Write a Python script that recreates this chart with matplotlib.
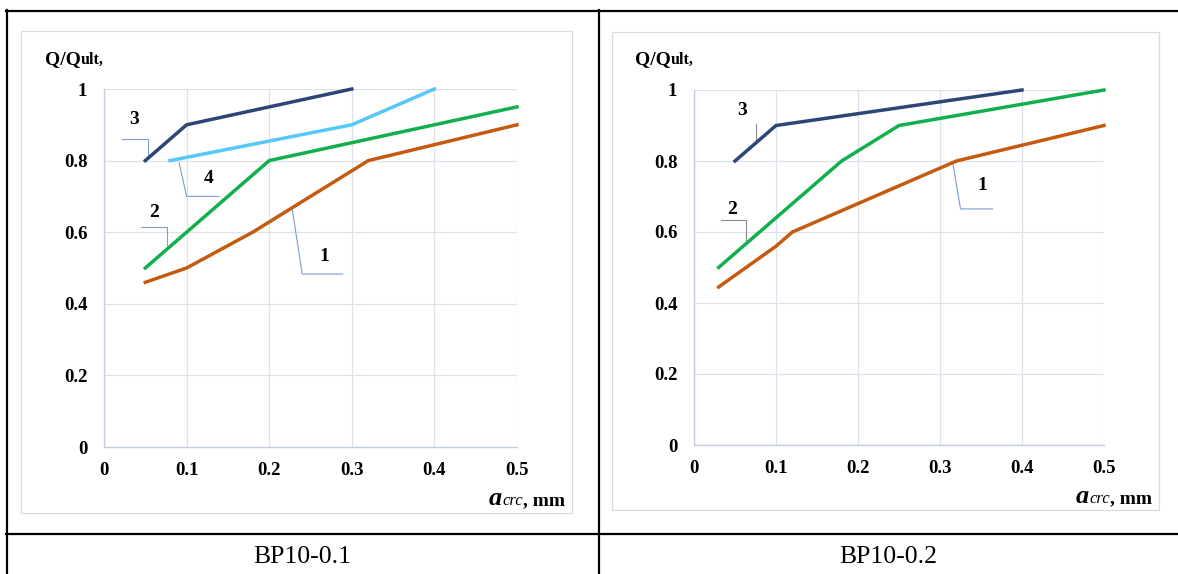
import matplotlib
matplotlib.use("Agg")
import matplotlib.pyplot as plt
from matplotlib.lines import Line2D
from matplotlib.patches import Rectangle

# ---------------- data ----------------
xticks = [0, 0.1, 0.2, 0.3, 0.4, 0.5]
yticks = [0, 0.2, 0.4, 0.6, 0.8, 1.0]
xtick_labels = ["0", "0.1", "0.2", "0.3", "0.4", "0.5"]
ytick_labels = ["0", "0.2", "0.4", "0.6", "0.8", "1"]

# BP10-0.1
a_c1_x = [0.05, 0.10, 0.18, 0.32, 0.50]
a_c1_y = [0.46, 0.50, 0.60, 0.80, 0.90]
a_c2_x = [0.05, 0.20, 0.50]
a_c2_y = [0.50, 0.80, 0.95]
a_c3_x = [0.05, 0.10, 0.30]
a_c3_y = [0.80, 0.90, 1.00]
a_c4_x = [0.08, 0.30, 0.40]
a_c4_y = [0.80, 0.90, 1.00]

# BP10-0.2
b_c1_x = [0.03, 0.10, 0.12, 0.32, 0.50]
b_c1_y = [0.445, 0.56, 0.60, 0.80, 0.90]
b_c2_x = [0.03, 0.18, 0.25, 0.50]
b_c2_y = [0.50, 0.80, 0.90, 1.00]
b_c3_x = [0.05, 0.10, 0.40]
b_c3_y = [0.80, 0.90, 1.00]

captions = ["BP10-0.1", "BP10-0.2"]

# ---------------- styles ----------------
C1 = "#C55A11"
C2 = "#12B04C"
C3 = "#2B4677"
C4 = "#55C8F6"
LEAD = "#7E9CD6"
LEAD_G = "#8A8A8A"
GRID = "#DCE1EA"
SPINE = "#C4CEE0"
SERIF = "Liberation Serif"
TICK_FS = 13.5

W, H = 1178, 574
fig = plt.figure(figsize=(W / 100, H / 100), dpi=100)
fig.patch.set_facecolor("white")


def fx(x):
    return x / W


def fy(y):
    return 1 - y / H


# table lines
tl = dict(color="black", lw=1.6, transform=fig.transFigure, zorder=5)
fig.add_artist(Line2D([fx(6), fx(1178)], [fy(11), fy(11)], **tl))
fig.add_artist(Line2D([fx(7), fx(7)], [fy(10), fy(574)], **tl))
fig.add_artist(Line2D([fx(598.5), fx(598.5)], [fy(10), fy(574)], **tl))
fig.add_artist(Line2D([fx(6), fx(1178)], [fy(534), fy(534)], **tl))

# chart boxes
for (x0, y0, x1, y1) in [(21, 31, 572, 513), (612, 32, 1159, 510)]:
    fig.add_artist(Rectangle((fx(x0), fy(y1)), fx(x1 - x0), (y1 - y0) / H,
                             transform=fig.transFigure, facecolor="white",
                             edgecolor="#D9DDE3", lw=0.9, zorder=0))


def make_axes(rect_px):
    x0, y0, x1, y1 = rect_px
    ax = fig.add_axes([fx(x0), fy(y1), (x1 - x0) / W, (y1 - y0) / H])
    ax.set_xlim(0, 0.5)
    ax.set_ylim(0, 1)
    ax.set_xticks(xticks)
    ax.set_yticks(yticks)
    ax.set_xticklabels(xtick_labels, fontfamily=SERIF, fontweight="bold", fontsize=TICK_FS)
    ax.set_yticklabels(ytick_labels, fontfamily=SERIF, fontweight="bold", fontsize=TICK_FS)
    ax.tick_params(length=0)
    ax.tick_params(axis="y", pad=12)
    ax.tick_params(axis="x", pad=11)
    ax.grid(True, color=GRID, lw=0.9)
    ax.set_axisbelow(True)
    for s in ["top", "right"]:
        ax.spines[s].set_visible(False)
    for s in ["left", "bottom"]:
        ax.spines[s].set_color(SPINE)
        ax.spines[s].set_linewidth(1.0)
    ax.set_facecolor("white")
    return ax


axA = make_axes((104, 89, 517, 447))
axB = make_axes((694, 90, 1104, 445))

lw = 2.5
axA.plot(a_c3_x, a_c3_y, color=C3, lw=lw, clip_on=False, zorder=3)
axA.plot(a_c4_x, a_c4_y, color=C4, lw=lw, clip_on=False, zorder=3)
axA.plot(a_c2_x, a_c2_y, color=C2, lw=lw, clip_on=False, zorder=3)
axA.plot(a_c1_x, a_c1_y, color=C1, lw=lw, clip_on=False, zorder=3)

axB.plot(b_c3_x, b_c3_y, color=C3, lw=lw, clip_on=False, zorder=3)
axB.plot(b_c2_x, b_c2_y, color=C2, lw=lw, clip_on=False, zorder=3)
axB.plot(b_c1_x, b_c1_y, color=C1, lw=lw, clip_on=False, zorder=3)

lab = dict(fontfamily=SERIF, fontweight="bold", fontsize=14, ha="center",
           va="center", zorder=4)


def leader(ax, xs, ys, color=LEAD):
    ax.plot(xs, ys, color=color, lw=0.8, clip_on=False, zorder=2.5)


# labels chart A
axA.text(0.036, 0.916, "3", **lab)
leader(axA, [0.022, 0.053, 0.053], [0.86, 0.86, 0.81])
axA.text(0.127, 0.749, "4", **lab)
leader(axA, [0.091, 0.100, 0.139], [0.793, 0.700, 0.700])
axA.text(0.061, 0.656, "2", **lab)
leader(axA, [0.045, 0.076, 0.076], [0.615, 0.615, 0.565])
axA.text(0.267, 0.532, "1", **lab)
leader(axA, [0.228, 0.240, 0.289], [0.663, 0.483, 0.483])

# labels chart B
axB.text(0.059, 0.942, "3", **lab)
leader(axB, [0.075, 0.075], [0.903, 0.856], LEAD_G)
axB.text(0.047, 0.663, "2", **lab)
leader(axB, [0.033, 0.064, 0.064], [0.634, 0.634, 0.577], LEAD_G)
axB.text(0.351, 0.732, "1", **lab)
leader(axB, [0.316, 0.325, 0.364], [0.789, 0.665, 0.665])

renderer = fig.canvas.get_renderer()


def seq_text(x_px, y_px, parts, align="left"):
    """Draw text parts one after another on a common baseline."""
    objs = []
    x = x_px
    for txt, kw in parts:
        t = fig.text(fx(x), fy(y_px), txt, ha="left", va="baseline", **kw)
        bb = t.get_window_extent(renderer)
        objs.append(t)
        x += bb.width
    if align == "right":
        total = x - x_px
        for t in objs:
            px0, py0 = t.get_position()
            t.set_position((px0 - total / W, py0))
    return objs


ylab_parts = [("Q/Q", dict(fontfamily=SERIF, fontweight="bold", fontsize=14)),
              ("ult,", dict(fontfamily=SERIF, fontweight="bold", fontsize=11.5))]
seq_text(45, 64, ylab_parts)
seq_text(635, 64, ylab_parts)

xlab_parts = [("a", dict(fontfamily=SERIF, fontweight="bold", fontstyle="italic", fontsize=19)),
              ("crc", dict(fontfamily=SERIF, fontstyle="italic", fontsize=12)),
              (", mm", dict(fontfamily=SERIF, fontweight="bold", fontsize=14))]
seq_text(565, 505, xlab_parts, align="right")
seq_text(1152, 503, xlab_parts, align="right")

fig.text(fx(302), fy(557), captions[0], fontfamily=SERIF, fontsize=18.5,
         ha="center", va="center")
fig.text(fx(888), fy(557), captions[1], fontfamily=SERIF, fontsize=18.5,
         ha="center", va="center")

fig.savefig("out.png", dpi=100, facecolor="white")
